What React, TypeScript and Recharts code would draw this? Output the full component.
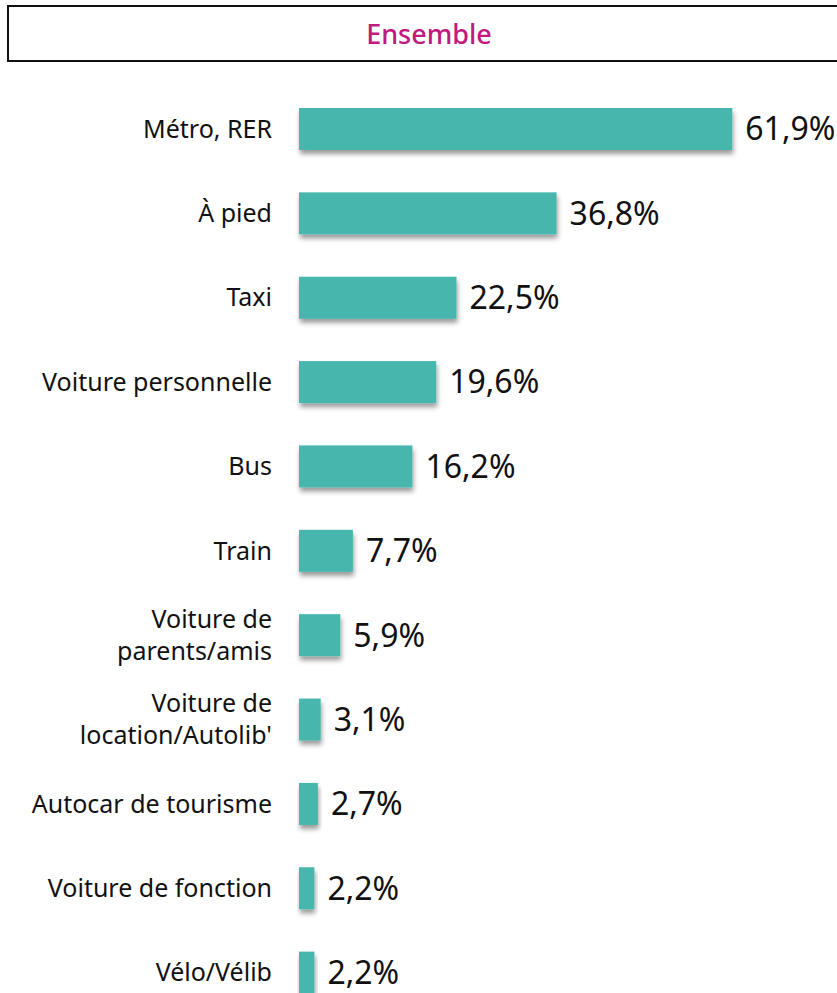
import React from 'react';
import { BarChart, Bar, XAxis, YAxis, LabelList } from 'recharts';

// Modes de transport utilisés (%)
const modes = [
  'Métro, RER',
  'À pied',
  'Taxi',
  'Voiture personnelle',
  'Bus',
  'Train',
  'Voiture de\nparents/amis',
  'Voiture de\nlocation/Autolib\'',
  'Autocar de tourisme',
  'Voiture de fonction',
  'Vélo/Vélib',
];
const shares = [61.9, 36.8, 22.5, 19.6, 16.2, 7.7, 5.9, 3.1, 2.7, 2.2, 2.2];

const data = modes.map((m, i) => ({ mode: m, share: shares[i] }));

const FONT = '"Noto Sans", "Open Sans", sans-serif';
const TEAL = '#47b7ad';

const ModeTick = (props: any) => {
  const { y, payload } = props;
  const lines = String(payload.value).split('\n');
  const lh = 32;
  const start = y - ((lines.length - 1) * lh) / 2;
  return (
    <text x={272} y={start} textAnchor="end" fontFamily={FONT} fontSize={25} fill="#111">
      {lines.map((l, i) => (
        <tspan key={i} x={272} y={start + i * lh} dy="0.34em">{l}</tspan>
      ))}
    </text>
  );
};

const ShadowBar = (props: any) => {
  const { x, y, width, height } = props;
  return <rect x={x} y={y} width={width} height={height} fill={TEAL} filter="url(#barShadow)" />;
};

export default function App() {
  return (
    <div style={{ position: 'relative', width: 837, height: 993, overflow: 'hidden', background: '#fff' }}>
      <style>{'body{margin:0}'}</style>
      <div
        style={{
          position: 'absolute', left: 7, top: 5, width: 840, height: 53,
          border: '2px solid #111', display: 'flex', alignItems: 'center',
          justifyContent: 'center', fontFamily: FONT, fontSize: 27, fontWeight: 500, color: '#c0197f',
        }}
      >
        Ensemble
      </div>
      <BarChart
        width={837}
        height={1020}
        data={data}
        layout="vertical"
        margin={{ top: 87, right: 48, bottom: 5, left: 0 }}
        barCategoryGap={0}
        style={{ position: 'absolute', left: 0, top: 0 }}
      >
        <defs>
          <filter id="barShadow" x="-10%" y="-20%" width="130%" height="160%">
            <feDropShadow dx="1" dy="4" stdDeviation="2.5" floodColor="#000" floodOpacity="0.4" />
          </filter>
        </defs>
        <XAxis type="number" domain={[0, 70]} hide />
        <YAxis
          type="category"
          dataKey="mode"
          width={299}
          axisLine={false}
          tickLine={false}
          interval={0}
          tick={<ModeTick />}
        />
        <Bar dataKey="share" barSize={42} isAnimationActive={false} shape={<ShadowBar />}>
          <LabelList
            dataKey="share"
            position="right"
            offset={13}
            formatter={(v: any) => `${String(v).replace('.', ',')}%`}
            style={{ fontFamily: FONT, fontSize: 32, fill: '#111' }}
          />
        </Bar>
      </BarChart>
    </div>
  );
}
